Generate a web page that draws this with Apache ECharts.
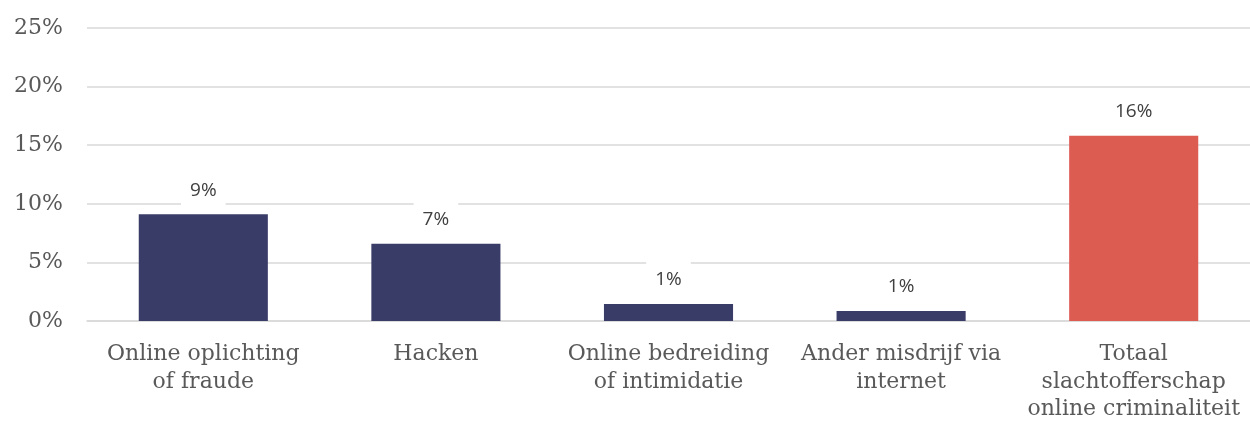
<!DOCTYPE html>
<html>
<head>
<meta charset="utf-8">
<script src="https://cdn.jsdelivr.net/npm/echarts@6/dist/echarts.min.js"></script>
<style>
  html, body { margin: 0; padding: 0; background: #fff; }
  #chart { width: 1250px; height: 421px; }
</style>
</head>
<body>
<div id="chart"></div>
<script>
// categorieën en waarden (procenten)
const categories = [
  'Online oplichting\nof fraude',
  'Hacken',
  'Online bedreiding\nof intimidatie',
  'Ander misdrijf via\ninternet',
  'Totaal\nslachtofferschap\nonline criminaliteit'
];
const values = [9.1, 6.6, 1.45, 0.85, 15.8];
const valueLabels = ['9%', '7%', '1%', '1%', '16%'];
const barColors = ['#383c66', '#383c66', '#383c66', '#383c66', '#dc5c52'];

const chart = echarts.init(document.getElementById('chart'));
const option = {
  animation: false,
  grid: {
    top: 28,
    left: 87,
    right: 0,
    bottom: 100,
    containLabel: false,
    outerBoundsMode: 'none',
  },
  xAxis: {
    type: 'category',
    data: categories,
    axisLine: { show: true, lineStyle: { color: '#d9d9d9', width: 1.5 } },
    axisTick: { show: false },
    axisLabel: {
      interval: 0,
      margin: 20,
      color: '#595959',
      fontFamily: 'DejaVu Serif',
      fontSize: 22,
      lineHeight: 27.5,
      align: 'center',
    },
  },
  yAxis: {
    type: 'value',
    min: 0,
    max: 25,
    interval: 5,
    axisLine: { show: false },
    axisTick: { show: false },
    splitLine: { lineStyle: { color: '#d9d9d9', width: 1.5 } },
    axisLabel: {
      margin: 24,
      color: '#595959',
      fontFamily: 'DejaVu Serif',
      fontSize: 22,
      formatter: (v) => v + '%',
    },
  },
  series: [
    {
      type: 'bar',
      barWidth: '55.5%',
      data: values.map((v, i) => ({ value: v, itemStyle: { color: barColors[i] } })),
      label: {
        show: true,
        position: 'top',
        distance: 5,
        color: '#404040',
        fontFamily: 'Open Sans',
        fontSize: 19,
        lineHeight: 18,
        backgroundColor: '#fff',
        padding: [10, 9],
        formatter: (p) => valueLabels[p.dataIndex],
      },
    },
  ],
};
chart.setOption(option);
window.addEventListener('resize', () => {
  chart.resize();
});
</script>
</body>
</html>
